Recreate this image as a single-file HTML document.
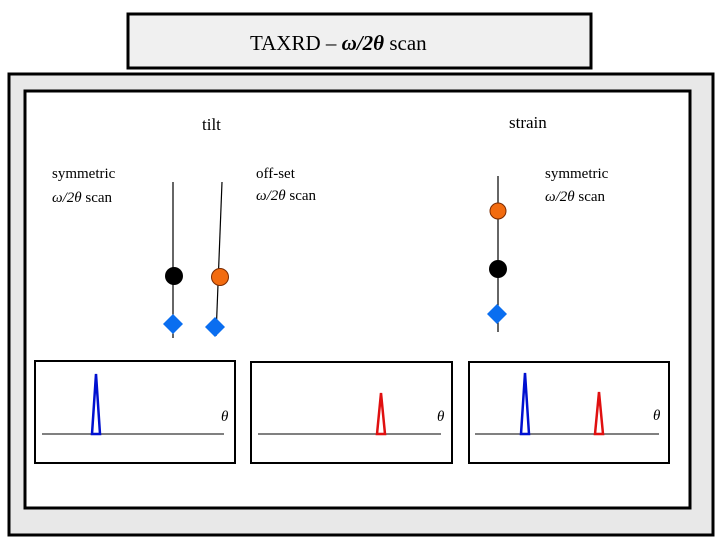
<!DOCTYPE html>
<html><head><meta charset="utf-8"><style>
html,body{margin:0;padding:0;background:#fff;width:720px;height:540px;overflow:hidden}
svg{display:block}
text{font-family:"Liberation Serif",serif;fill:#000}
</style></head><body>
<svg width="720" height="540" viewBox="0 0 720 540" xmlns="http://www.w3.org/2000/svg">
<rect x="128" y="14" width="463" height="54" fill="#f0f0f0" stroke="#000" stroke-width="3"/>
<text x="250" y="50" font-size="21">TAXRD – <tspan font-weight="bold" font-style="italic">ω/2θ</tspan> scan</text>
<rect x="9" y="74" width="704" height="461" fill="#e8e8e8" stroke="#000" stroke-width="3"/>
<rect x="25" y="91" width="665" height="417" fill="#fff" stroke="#000" stroke-width="3"/>
<text x="202" y="130" font-size="17">tilt</text>
<text x="509" y="128" font-size="17">strain</text>
<text x="52" y="178" font-size="15">symmetric</text>
<text x="52" y="202" font-size="15"><tspan font-style="italic">ω/2θ</tspan> scan</text>
<text x="256" y="178" font-size="15">off-set</text>
<text x="256" y="200" font-size="15"><tspan font-style="italic">ω/2θ</tspan> scan</text>
<text x="545" y="178" font-size="15">symmetric</text>
<text x="545" y="201" font-size="15"><tspan font-style="italic">ω/2θ</tspan> scan</text>
<line x1="173" y1="182" x2="173" y2="338" stroke="#000" stroke-width="1.2"/>
<line x1="222" y1="182" x2="216" y2="336" stroke="#000" stroke-width="1.2"/>
<line x1="498" y1="176" x2="498" y2="332" stroke="#000" stroke-width="1.2"/>
<circle cx="174" cy="276" r="9" fill="#000"/>
<circle cx="220" cy="277" r="8.5" fill="#f26b0f" stroke="#7a2a00" stroke-width="1"/>
<circle cx="498" cy="211" r="8" fill="#f26b0f" stroke="#7a2a00" stroke-width="1"/>
<circle cx="498" cy="269" r="9" fill="#000"/>
<polygon points="173,314 183,324 173,334 163,324" fill="#0a6ef0"/>
<polygon points="215,317 225,327 215,337 205,327" fill="#0a6ef0"/>
<polygon points="497,304 507,314 497,324 487,314" fill="#0a6ef0"/>
<rect x="35" y="361" width="200" height="102" fill="#fff" stroke="#000" stroke-width="2"/>
<rect x="251" y="362" width="201" height="101" fill="#fff" stroke="#000" stroke-width="2"/>
<rect x="469" y="362" width="200" height="101" fill="#fff" stroke="#000" stroke-width="2"/>
<line x1="42" y1="434" x2="224" y2="434" stroke="#000" stroke-width="1"/>
<line x1="258" y1="434" x2="441" y2="434" stroke="#000" stroke-width="1"/>
<line x1="475" y1="434" x2="659" y2="434" stroke="#000" stroke-width="1"/>
<text x="221" y="421" font-size="15" font-style="italic">θ</text>
<text x="437" y="421" font-size="15" font-style="italic">θ</text>
<text x="653" y="420" font-size="15" font-style="italic">θ</text>
<polygon points="92,434 96,374 100,434" fill="#fff" stroke="#0010d0" stroke-width="2.5" stroke-linejoin="miter"/>
<polygon points="377,434 381,393 385,434" fill="#fff" stroke="#e01010" stroke-width="2.5"/>
<polygon points="521,434 525,373 529,434" fill="#fff" stroke="#0010d0" stroke-width="2.5"/>
<polygon points="595,434 599,392 603,434" fill="#fff" stroke="#e01010" stroke-width="2.5"/>
</svg>
</body></html>
